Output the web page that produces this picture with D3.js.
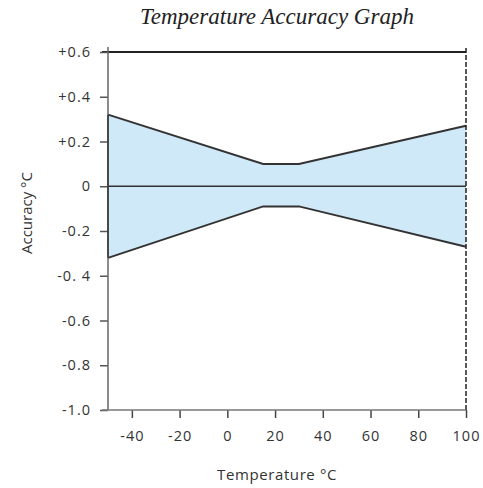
<!DOCTYPE html>
<html>
<head>
<meta charset="utf-8">
<script src="https://cdn.jsdelivr.net/npm/d3@7"></script>
<style>
  body { margin: 0; background: #fff; }
  svg text { font-family: "Open Sans", sans-serif; fill: #333; }
</style>
</head>
<body>
<svg id="vis" width="483" height="488"></svg>
<script>
// values
let temps = [-50, 15, 30, 100];
let upper = [0.32, 0.10, 0.10, 0.27];
let lower = [-0.32, -0.09, -0.09, -0.27];
let xTicks = [-40, -20, 0, 20, 40, 60, 80, 100];
let yTicks = [0.6, 0.4, 0.2, 0, -0.2, -0.4, -0.6, -0.8, -1.0];
let yTickLabels = ["+0.6", "+0.4", "+0.2", "0", "-0.2", "-0. 4", "-0.6", "-0.8", "-1.0"];

let svg = d3.select("#vis");
let plotLeft = 108, plotRight = 466, plotTop = 52, plotBottom = 410;

let x = d3.scaleLinear().domain([-50, 100]).range([plotLeft, plotRight]);
let y = d3.scaleLinear().domain([-1.0, 0.6]).range([plotBottom, plotTop]);

let pts = temps.map((t, i) => ({ t: t, hi: upper[i], lo: lower[i] }));

// band
let area = d3.area()
  .x(d => x(d.t))
  .y0(d => y(d.lo))
  .y1(d => y(d.hi));
svg.append("path")
  .datum(pts)
  .attr("d", area)
  .attr("fill", "#cfe9f8");

let lineHi = d3.line().x(d => x(d.t)).y(d => y(d.hi));
let lineLo = d3.line().x(d => x(d.t)).y(d => y(d.lo));
svg.append("path").datum(pts).attr("d", lineHi)
  .attr("fill", "none").attr("stroke", "#333").attr("stroke-width", 2);
svg.append("path").datum(pts).attr("d", lineLo)
  .attr("fill", "none").attr("stroke", "#333").attr("stroke-width", 2);

// zero line
svg.append("line")
  .attr("x1", x(-50)).attr("x2", x(100))
  .attr("y1", y(0)).attr("y2", y(0))
  .attr("stroke", "#333").attr("stroke-width", 1.5);

// top frame line
svg.append("line")
  .attr("x1", x(-50) - 6).attr("x2", x(100))
  .attr("y1", y(0.6)).attr("y2", y(0.6))
  .attr("stroke", "#222").attr("stroke-width", 2);

// right dashed frame
svg.append("line")
  .attr("x1", x(100)).attr("x2", x(100))
  .attr("y1", y(0.6) - 4).attr("y2", y(-1.0))
  .attr("stroke", "#222").attr("stroke-width", 1.5)
  .attr("stroke-dasharray", "5,2");

// y axis
let yAxis = d3.axisLeft(y)
  .tickValues(yTicks)
  .tickSize(8)
  .tickPadding(9)
  .tickFormat((d, i) => yTickLabels[i]);
let gy = svg.append("g")
  .attr("transform", `translate(${plotLeft},0)`)
  .call(yAxis);
gy.select(".domain").remove();
gy.append("line")
  .attr("x1", 0).attr("x2", 0)
  .attr("y1", plotTop - 5).attr("y2", plotBottom)
  .attr("stroke", "#666").attr("stroke-width", 1.5);
// darker edge where the band meets the axis
gy.append("line")
  .attr("x1", 0).attr("x2", 0)
  .attr("y1", y(upper[0])).attr("y2", y(lower[0]))
  .attr("stroke", "#333").attr("stroke-width", 1.5);
gy.selectAll(".tick line").attr("stroke", "#555").attr("stroke-width", 1.5);
gy.selectAll(".tick text")
  .style("font-size", "14.5px")
  .style("letter-spacing", "1px")
  .style("fill", "#333");

// x axis
let xAxis = d3.axisBottom(x)
  .tickValues(xTicks)
  .tickSize(8)
  .tickPadding(13)
  .tickFormat(d => String(d));
let gx = svg.append("g")
  .attr("transform", `translate(0,${plotBottom})`)
  .call(xAxis);
gx.select(".domain").remove();
gx.append("line")
  .attr("x1", plotLeft - 6).attr("x2", plotRight)
  .attr("y1", 0).attr("y2", 0)
  .attr("stroke", "#777").attr("stroke-width", 1.5);
gx.selectAll(".tick line").attr("stroke", "#444").attr("stroke-width", 1.5);
gx.selectAll(".tick text")
  .style("font-size", "14.5px")
  .style("letter-spacing", "1px")
  .style("fill", "#333");

// titles
svg.append("text")
  .attr("x", 277).attr("y", 24)
  .attr("text-anchor", "middle")
  .style("font-family", "'Liberation Serif', serif")
  .style("font-style", "italic")
  .style("font-size", "23px")
  .style("fill", "#222")
  .text("Temperature Accuracy Graph");

svg.append("text")
  .attr("x", 277).attr("y", 480)
  .attr("text-anchor", "middle")
  .style("font-size", "15px")
  .style("letter-spacing", "0.6px")
  .text("Temperature °C");

svg.append("text")
  .attr("transform", "translate(32,213) rotate(-90)")
  .attr("text-anchor", "middle")
  .style("font-size", "15px")
  .text("Accuracy °C");
</script>
</body>
</html>
